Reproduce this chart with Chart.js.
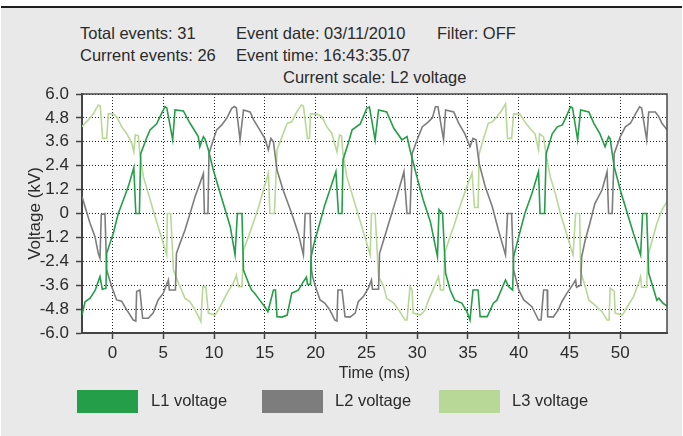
<!DOCTYPE html>
<html>
<head>
<meta charset="utf-8">
<script src="https://cdn.jsdelivr.net/npm/chart.js@4/dist/chart.umd.min.js"></script>
<style>
  html, body { margin: 0; padding: 0; background: #ffffff; }
  #wrap { position: relative; width: 683px; height: 436px; overflow: hidden; font-family: "Liberation Sans", Arial, sans-serif; color: #2b2b2b; }
  #panel { position: absolute; left: 1px; top: 6px; width: 681px; height: 430px; background: #e9e9e9; border-top: 2px solid #1e1e1e; }
  canvas { position: absolute; left: 0; top: 0; }
  .t { position: absolute; font-size: 16.5px; line-height: 20px; white-space: nowrap; }
  .sw { position: absolute; width: 61px; height: 23px; }
  .lg { position: absolute; font-size: 16.5px; line-height: 20px; white-space: nowrap; }
</style>
</head>
<body>
<div id="wrap">
  <div id="panel"></div>
  <div class="t" style="left:80px; top:23px;">Total events: 31</div>
  <div class="t" style="left:236px; top:23px;">Event date: 03/11/2010</div>
  <div class="t" style="left:437px; top:23px;">Filter: OFF</div>
  <div class="t" style="left:80px; top:45px;">Current events: 26</div>
  <div class="t" style="left:236px; top:45px;">Event time: 16:43:35.07</div>
  <div class="t" style="left:283px; top:67px;">Current scale: L2 voltage</div>
  <canvas id="c" width="683" height="436"></canvas>
  <div class="sw" style="left:77px; top:390px; background:#249e48;"></div>
  <div class="lg" style="left:151px; top:390px;">L1 voltage</div>
  <div class="sw" style="left:262px; top:390px; background:#7d7d7d;"></div>
  <div class="lg" style="left:335px; top:390px;">L2 voltage</div>
  <div class="sw" style="left:439px; top:390px; background:#b7d896;"></div>
  <div class="lg" style="left:512px; top:390px;">L3 voltage</div>
</div>
<script>
// ---- data (time in ms, voltage in kV) ----
const seriesNames = ["L1 voltage", "L2 voltage", "L3 voltage"];

const l1Time = [-3.0,-2.7,-2.2,-1.7,-1.23,-1.0,-0.64,-0.57,-0.25,0.08,0.57,1.07,1.56,2.1,2.3,2.65,2.78,3.37,3.7,4.35,4.85,5.17,5.35,5.93,6.16,6.98,7.64,8.45,8.6,8.95,9.1,9.44,9.93,10.6,11.6,12.07,12.3,12.75,12.9,13.4,13.7,14.0,14.5,15.0,15.3,15.85,16.05,16.2,16.7,17.2,17.65,18.3,18.8,19.1,19.2,19.5,19.55,19.8,20.4,20.9,21.4,22.0,22.25,22.6,22.7,23.2,23.6,24.4,25.04,25.3,25.86,26.2,27.0,27.7,28.5,29.0,29.3,29.97,30.6,31.3,32.0,32.15,32.5,32.8,33.25,33.7,34.4,34.9,35.2,35.5,36.0,36.2,36.9,37.5,37.85,38.7,39.0,39.4,39.5,40.0,40.6,41.3,41.95,42.1,42.55,42.7,43.3,43.8,44.3,44.8,45.1,45.3,45.8,46.1,46.9,47.4,48.0,48.5,48.85,49.0,49.4,50.0,50.7,51.3,52.0,52.2,52.6,52.8,53.3,53.6,53.8,54.2,54.6];
const l1Volt = [-5.1,-4.43,-4.25,-3.85,-3.17,-3.8,-3.75,-2.0,-1.5,-1.0,0.0,0.68,1.35,2.3,0.0,0.0,3.0,3.8,4.2,4.5,5.04,5.36,5.3,3.7,5.2,5.15,4.53,3.86,3.35,3.86,3.75,3.2,2.18,1.03,-0.66,-2.08,0.0,0.0,-2.84,-3.5,-3.84,-4.0,-4.35,-4.68,-4.93,-3.84,-3.84,-5.18,-5.2,-5.1,-4.0,-3.85,-3.42,-3.2,-3.55,-3.55,-2.2,-1.6,-0.5,0.42,1.18,2.1,0.0,0.0,2.7,3.5,4.2,4.5,5.28,5.35,3.7,5.2,5.1,4.28,3.7,3.86,3.19,1.85,0.68,-0.41,-2.17,0.2,0.0,-3.0,-3.84,-4.35,-4.5,-4.93,-5.35,-3.84,-3.84,-5.18,-5.18,-4.5,-4.35,-3.34,-3.67,-3.84,-2.17,-1.16,0.0,1.0,2.1,0.0,0.0,3.0,4.0,4.35,4.45,5.0,5.36,5.3,3.7,5.2,5.1,4.53,4.0,3.35,3.86,3.75,2.35,1.18,0.0,-1.0,-2.08,0.0,0.0,-3.0,-3.84,-4.35,-4.25,-4.5,-4.65];

const l2Time = [-3.0,-2.7,-2.2,-1.72,-1.4,-1.23,-1.1,-0.74,-0.57,-0.08,0.41,0.9,1.4,2.05,2.3,2.38,2.7,2.97,3.53,4.0,4.5,5.0,5.5,5.6,6.2,6.3,6.65,7.14,7.64,8.13,8.6,8.95,9.05,9.4,9.5,9.93,10.26,10.76,11.25,11.74,12.0,12.2,12.56,12.9,13.55,13.9,14.5,15.0,15.35,15.6,15.85,16.2,16.8,17.65,18.3,18.8,18.97,19.46,19.6,19.7,20.1,20.44,20.9,21.4,21.9,22.1,22.2,22.6,22.9,23.4,23.9,24.2,24.7,25.2,25.5,25.6,26.2,26.3,26.7,27.3,28.0,28.7,29.0,29.3,29.5,30.0,30.5,31.1,31.5,31.8,32.05,32.6,32.8,33.6,34.1,34.7,35.2,35.5,35.8,36.1,36.7,37.4,38.0,38.7,38.9,39.3,39.5,40.0,40.5,41.3,41.95,42.2,42.45,42.8,42.85,43.4,43.9,44.25,44.75,45.2,45.6,45.7,46.1,46.2,46.55,47.0,47.5,48.2,48.7,48.85,49.2,49.4,50.0,50.5,51.0,51.5,51.9,52.1,52.6,52.8,53.45,53.8,54.1,54.6];
const l2Volt = [0.85,0.34,-0.5,-1.16,-2.0,-2.25,-0.05,0.0,-2.84,-3.67,-4.34,-4.4,-4.84,-5.35,-5.4,-3.92,-3.84,-5.26,-5.26,-5.0,-4.34,-4.0,-3.34,-3.84,-3.84,-2.0,-1.5,-0.83,0.0,0.84,1.5,2.0,0.0,0.0,3.0,3.7,4.2,4.45,4.78,5.28,5.37,5.3,3.7,5.2,5.1,4.7,4.2,3.77,3.19,3.77,3.6,2.18,1.18,0.0,-1.0,-2.08,0.0,0.0,-2.84,-3.17,-3.84,-4.34,-4.5,-4.84,-5.35,-5.4,-3.84,-3.84,-5.18,-5.2,-5.0,-4.43,-4.17,-3.75,-3.34,-3.8,-3.8,-2.0,-1.33,-0.33,0.84,2.1,0.0,0.0,3.0,3.7,4.35,4.6,4.8,5.36,5.36,3.7,5.2,5.1,4.53,4.0,3.35,3.77,3.7,2.52,1.35,0.34,-0.83,-2.08,0.0,0.0,-2.84,-3.84,-4.34,-4.68,-5.35,-5.35,-3.84,-3.84,-5.18,-5.2,-4.84,-4.43,-4.0,-3.67,-3.34,-3.7,-3.6,-2.17,-1.33,-0.5,0.5,1.18,2.1,0.0,0.0,3.0,3.86,4.35,4.53,5.0,5.36,5.3,3.7,5.1,5.1,4.85,4.53,4.2];

const l3Time = [-3.0,-2.7,-2.38,-1.9,-1.4,-1.2,-0.97,-0.57,-0.41,0.08,0.41,0.9,1.4,1.9,2.1,2.25,2.55,2.7,2.9,3.04,3.53,4.0,4.5,5.0,5.34,5.4,5.73,6.0,6.5,6.8,7.14,7.64,8.13,8.55,8.7,8.9,9.2,9.44,10.1,10.6,11.4,11.9,12.2,12.4,12.75,12.9,13.4,13.9,14.4,14.86,15.35,15.5,15.95,16.2,16.7,17.2,17.65,18.15,18.6,18.8,19.2,19.4,19.5,20.1,20.6,21.1,21.6,22.1,22.35,22.55,22.7,23.07,23.57,24.06,24.55,25.04,25.37,25.5,25.86,26.2,26.7,27.0,27.7,28.3,28.8,29.0,29.3,29.5,29.6,30.3,30.8,31.0,31.5,32.1,32.3,32.6,32.7,33.25,33.7,34.2,34.9,35.4,35.65,36.0,36.1,36.5,37.0,37.4,37.85,38.35,38.7,38.9,39.3,39.5,40.1,40.6,41.1,41.6,41.95,42.05,42.45,42.7,43.1,43.6,44.1,44.6,45.1,45.35,45.6,46.0,46.1,46.55,46.9,47.5,48.2,48.7,48.9,49.0,49.4,49.5,50.2,50.7,51.3,51.8,52.0,52.1,52.6,52.7,53.1,53.6,54.1,54.6];
const l3Volt = [4.36,4.53,4.7,5.0,5.45,5.4,3.77,3.77,5.0,5.0,4.86,4.36,4.02,3.52,3.1,3.95,3.9,3.0,2.3,1.85,1.01,0.18,-0.66,-1.5,-2.08,0.0,0.0,-2.84,-3.5,-3.84,-4.26,-4.43,-4.84,-5.26,-5.43,-3.67,-3.7,-5.0,-5.1,-4.68,-3.9,-3.5,-3.09,-3.67,-3.67,-1.83,-1.16,-0.41,0.34,1.18,2.02,0.0,0.0,3.19,3.86,4.53,4.6,5.1,5.45,5.4,3.77,3.77,5.0,5.0,4.86,4.36,4.02,3.1,3.94,3.9,3.0,1.85,1.01,0.18,-0.66,-1.5,-2.08,0.0,0.0,-3.17,-3.67,-4.26,-4.5,-4.93,-5.35,-5.35,-3.67,-3.84,-5.0,-5.1,-4.84,-4.5,-3.9,-3.17,-3.84,-3.84,-2.0,-1.16,-0.5,0.34,1.35,2.02,0.3,0.3,3.0,3.7,4.53,4.6,4.86,5.2,5.5,3.77,3.77,5.0,5.0,4.6,4.28,4.0,3.2,4.0,3.85,2.94,1.85,1.01,0.0,-0.83,-1.67,-2.08,0.0,0.0,-2.92,-3.67,-4.34,-4.6,-4.93,-5.35,-5.35,-3.75,-3.9,-5.0,-5.1,-4.68,-4.17,-3.5,-3.17,-3.7,-3.7,-2.17,-1.42,-0.5,0.18,0.6];

const xTickValues = [0, 5, 10, 15, 20, 25, 30, 35, 40, 45, 50];
const xTickLabels = ["0", "5", "10", "15", "20", "25", "30", "35", "40", "45", "50"];
const yTickValues = [-6.0, -4.8, -3.6, -2.4, -1.2, 0, 1.2, 2.4, 3.6, 4.8, 6.0];
const yTickLabels = ["-6.0", "-4.8", "-3.6", "-2.4", "-1.2", "0", "1.2", "2.4", "3.6", "4.8", "6.0"];
const xRange = [-3.0, 54.6];
const yRange = [-6.0, 6.0];
const xTitle = "Time (ms)";
const yTitle = "Voltage (kV)";

const seriesColors = ["#249e48", "#7d7d7d", "#b7d896"];

function pts(ts, vs) { return ts.map((t, i) => ({ x: t, y: vs[i] })); }

const frame = {
  id: 'frame',
  afterDraw(chart) {
    const { ctx, chartArea: a } = chart;
    ctx.save();
    ctx.strokeStyle = '#4a4a4a';
    ctx.lineWidth = 1.5;
    ctx.beginPath();
    ctx.moveTo(a.left, a.top); ctx.lineTo(a.right, a.top); ctx.lineTo(a.right, a.bottom);
    ctx.stroke();
    ctx.restore();
  }
};

const whiteArea = {
  id: 'whiteArea',
  beforeDraw(chart) {
    const { ctx, chartArea: a } = chart;
    ctx.save();
    ctx.fillStyle = '#ffffff';
    ctx.fillRect(a.left, a.top, a.right - a.left, a.bottom - a.top);
    ctx.restore();
  }
};

new Chart(document.getElementById('c'), {
  type: 'line',
  data: {
    datasets: [
      { label: seriesNames[0], data: pts(l1Time, l1Volt), borderColor: seriesColors[0], backgroundColor: seriesColors[0] },
      { label: seriesNames[1], data: pts(l2Time, l2Volt), borderColor: seriesColors[1], backgroundColor: seriesColors[1] },
      { label: seriesNames[2], data: pts(l3Time, l3Volt), borderColor: seriesColors[2], backgroundColor: seriesColors[2] }
    ]
  },
  options: {
    responsive: false,
    animation: false,
    devicePixelRatio: 1,
    layout: { padding: { left: 0, right: 16, top: 94, bottom: 53 } },
    elements: { point: { radius: 0 }, line: { borderWidth: 1.6, tension: 0 } },
    plugins: { legend: { display: false }, tooltip: { enabled: false } },
    scales: {
      x: {
        type: 'linear', min: xRange[0], max: xRange[1],
        afterBuildTicks(s) { s.ticks = xTickValues.map(v => ({ value: v })); },
        afterFit(s) { s.height = 50; },
        ticks: {
          callback: (v, i) => xTickLabels[i], autoSkip: false, maxRotation: 0,
          color: '#2b2b2b', padding: 4,
          font: { family: 'Liberation Sans', size: 17 }
        },
        grid: { color: '#222', lineWidth: 1, tickLength: 6, tickColor: '#444', tickWidth: 1.5, tickBorderDash: [] },
        border: { display: true, color: '#444', width: 2, dash: [1, 2] },
        title: { display: true, text: xTitle, color: '#2b2b2b', font: { family: 'Liberation Sans', size: 16 }, padding: { top: 0, bottom: 0 } }
      },
      y: {
        type: 'linear', min: yRange[0], max: yRange[1],
        afterBuildTicks(s) { s.ticks = yTickValues.map(v => ({ value: v })); },
        afterFit(s) { s.width = 82; },
        ticks: {
          callback: (v, i) => yTickLabels[i], autoSkip: false,
          color: '#2b2b2b', padding: 7,
          font: { family: 'Liberation Sans', size: 17 }
        },
        grid: { color: '#222', lineWidth: 1, tickLength: 6, tickColor: '#444', tickWidth: 1.5, tickBorderDash: [] },
        border: { display: true, color: '#444', width: 2, dash: [1, 2] },
        title: { display: true, text: yTitle, color: '#2b2b2b', font: { family: 'Liberation Sans', size: 17 }, padding: { top: 25, bottom: 0 } }
      }
    }
  },
  plugins: [whiteArea, frame]
});
</script>
</body>
</html>
